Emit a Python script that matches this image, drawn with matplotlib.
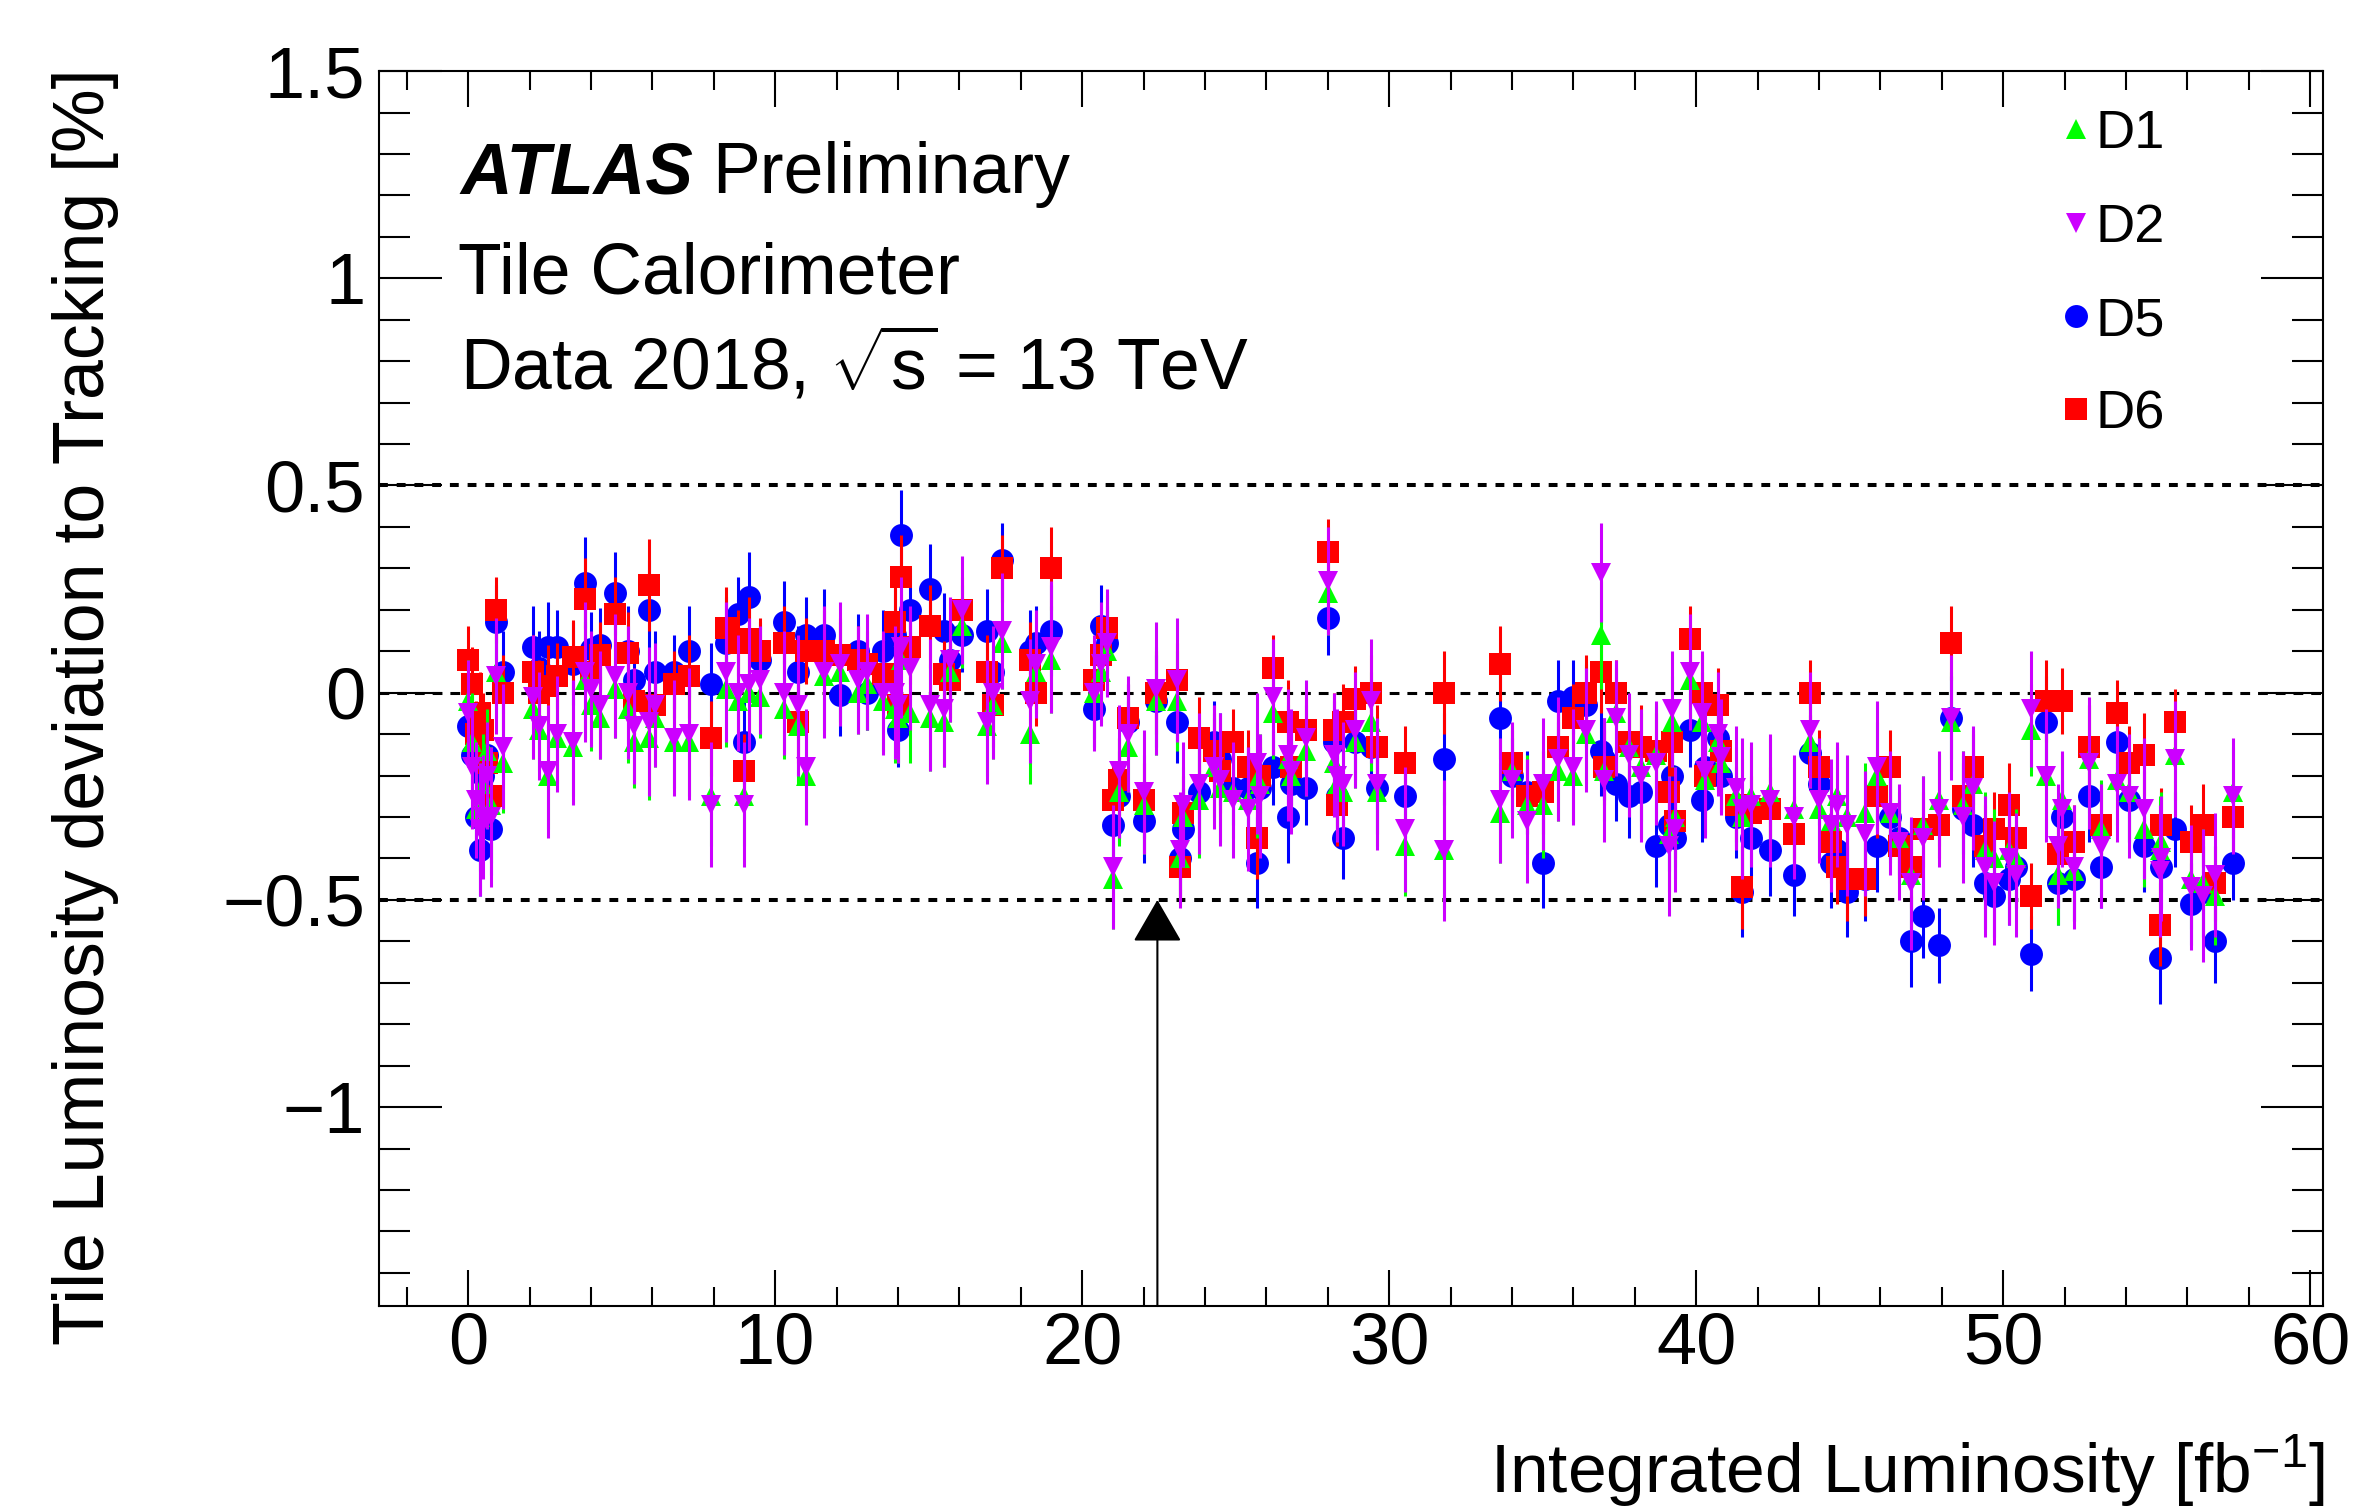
import matplotlib
matplotlib.use("Agg")
import matplotlib.pyplot as plt
from matplotlib.lines import Line2D
from matplotlib.ticker import MultipleLocator, FuncFormatter

plt.rcParams['font.family'] = ['Liberation Sans', 'DejaVu Sans']
plt.rcParams['mathtext.fontset'] = 'custom'
plt.rcParams['mathtext.rm'] = 'Liberation Sans'
plt.rcParams['mathtext.it'] = 'Liberation Sans:italic'
plt.rcParams['mathtext.bf'] = 'Liberation Sans:bold'

# integrated luminosity of each run [fb^-1]
lumi = [0.00, 0.12, 0.25, 0.38, 0.50, 0.62, 0.75, 0.90, 1.15,
        2.1, 2.3, 2.6, 2.9, 3.4, 3.8, 4.0, 4.3, 4.8, 5.2,
        5.4, 5.9, 6.1, 6.7, 7.2, 7.9, 8.4, 8.8, 9.0, 9.15,
        9.5, 10.3, 10.75, 11.0, 11.6, 12.1, 12.7, 13.0, 13.5, 13.9,
        14.0, 14.1, 14.4, 15.05, 15.5, 15.7, 16.1, 16.9, 17.1, 17.4,
        18.3, 18.5, 19.0, 20.4, 20.6, 20.8, 21.0, 21.2, 21.5, 22.0,
        22.4, 23.1, 23.2, 23.3, 23.8, 24.3, 24.5, 24.9, 25.4, 25.7,
        25.8, 26.2, 26.7, 26.8, 27.3, 28.0, 28.2, 28.3, 28.5, 28.9,
        29.4, 29.6, 30.5, 31.8, 33.6, 34.0, 34.5, 35.0, 35.5, 36.0,
        36.4, 36.9, 37.0, 37.4, 37.8, 38.2, 38.7, 39.1, 39.2, 39.3,
        39.8, 40.2, 40.3, 40.7, 40.8, 41.3, 41.5, 41.8, 42.4, 43.2,
        43.7, 44.0, 44.4, 44.6, 44.9, 45.5, 45.9, 46.3, 46.6, 47.0,
        47.4, 47.9, 48.3, 48.7, 49.0, 49.4, 49.7, 50.2, 50.4, 50.9,
        51.4, 51.8, 51.9, 52.3, 52.8, 53.2, 53.7, 54.1, 54.6, 55.1,
        55.15, 55.6, 56.1, 56.5, 56.9, 57.5]

d1 = [-0.02, -0.12, -0.28, -0.30, -0.22, -0.14, -0.27, 0.05, -0.17,
      -0.04, -0.09, -0.20, -0.11, -0.13, 0.03, -0.03, -0.06, 0.01, -0.04,
      -0.12, -0.11, -0.06, -0.12, -0.12, -0.25, 0.01, -0.02, -0.25, 0.00,
      -0.01, -0.04, -0.08, -0.20, 0.04, 0.05, 0.00, 0.02, -0.02, -0.04,
      -0.06, 0.08, -0.05, -0.06, -0.07, 0.05, 0.16, -0.08, -0.03, 0.12,
      -0.10, 0.05, 0.08, 0.00, 0.05, 0.10, -0.45, -0.24, -0.13, -0.27,
      -0.02, -0.02, -0.40, -0.30, -0.26, -0.18, -0.23, -0.24, -0.26, -0.21,
      -0.22, -0.05, -0.16, -0.20, -0.14, 0.24, -0.17, -0.22, -0.24, -0.12,
      -0.07, -0.24, -0.37, -0.38, -0.29, -0.19, -0.27, -0.27, -0.19, -0.20,
      -0.10, 0.14, -0.19, -0.05, -0.13, -0.18, -0.15, -0.34, -0.07, -0.30,
      0.03, -0.07, -0.21, -0.12, -0.17, -0.25, -0.30, -0.25, -0.24, -0.28,
      -0.12, -0.28, -0.31, -0.25, -0.30, -0.29, -0.20, -0.29, -0.35, -0.44,
      -0.32, -0.26, -0.07, -0.27, -0.22, -0.38, -0.40, -0.38, -0.40, -0.09,
      -0.20, -0.44, -0.26, -0.43, -0.16, -0.33, -0.21, -0.24, -0.33, -0.38,
      -0.36, -0.15, -0.45, -0.46, -0.49, -0.24]

d2 = [-0.05, -0.18, -0.26, -0.33, -0.30, -0.20, -0.30, 0.04, -0.13,
      -0.01, -0.08, -0.19, -0.10, -0.12, 0.05, 0.01, -0.03, 0.04, 0.00,
      -0.08, -0.07, -0.03, -0.11, -0.10, -0.27, 0.05, 0.00, -0.27, 0.02,
      0.03, 0.00, -0.03, -0.18, 0.05, 0.07, 0.03, 0.05, 0.00, 0.00,
      -0.03, 0.11, 0.06, -0.03, -0.04, 0.08, 0.20, -0.07, 0.00, 0.15,
      -0.02, 0.07, 0.11, 0.00, 0.07, 0.12, -0.42, -0.19, -0.10, -0.24,
      0.01, 0.03, -0.38, -0.27, -0.22, -0.18, -0.21, -0.26, -0.28, -0.17,
      -0.25, -0.01, -0.15, -0.19, -0.11, 0.27, -0.15, -0.20, -0.22, -0.09,
      -0.02, -0.22, -0.33, -0.38, -0.26, -0.21, -0.31, -0.22, -0.16, -0.18,
      -0.09, 0.29, -0.21, -0.06, -0.15, -0.20, -0.17, -0.37, -0.04, -0.33,
      0.05, -0.05, -0.19, -0.10, -0.155, -0.23, -0.28, -0.27, -0.26, -0.30,
      -0.09, -0.26, -0.32, -0.27, -0.32, -0.34, -0.18, -0.29, -0.36, -0.46,
      -0.35, -0.28, -0.06, -0.30, -0.23, -0.42, -0.46, -0.40, -0.44, -0.04,
      -0.20, -0.37, -0.28, -0.42, -0.17, -0.37, -0.22, -0.25, -0.28, -0.43,
      -0.40, -0.16, -0.47, -0.49, -0.44, -0.25]

d5 = [-0.08, -0.15, -0.30, -0.38, -0.20, -0.15, -0.33, 0.17, 0.05,
      0.11, 0.06, 0.11, 0.11, 0.07, 0.265, 0.105, 0.115, 0.24, 0.10,
      0.03, 0.20, 0.05, 0.05, 0.10, 0.02, 0.12, 0.19, -0.12, 0.23,
      0.08, 0.17, 0.05, 0.14, 0.14, -0.005, 0.10, 0.00, 0.10, 0.14,
      -0.09, 0.38, 0.20, 0.25, 0.15, 0.08, 0.14, 0.15, 0.05, 0.32,
      0.10, 0.12, 0.15, -0.04, 0.16, 0.12, -0.32, -0.25, -0.07, -0.31,
      -0.02, -0.07, -0.40, -0.33, -0.24, -0.12, -0.16, -0.23, -0.23, -0.41,
      -0.23, -0.18, -0.30, -0.22, -0.23, 0.18, -0.12, -0.25, -0.35, -0.12,
      -0.13, -0.23, -0.25, -0.16, -0.06, -0.20, -0.24, -0.41, -0.02, -0.01,
      -0.03, -0.14, -0.16, -0.22, -0.25, -0.24, -0.37, -0.32, -0.20, -0.35,
      -0.09, -0.26, -0.18, -0.11, -0.20, -0.30, -0.48, -0.35, -0.38, -0.44,
      -0.145, -0.22, -0.41, -0.38, -0.48, -0.45, -0.37, -0.30, -0.35, -0.60,
      -0.54, -0.61, -0.06, -0.28, -0.32, -0.46, -0.49, -0.45, -0.42, -0.63,
      -0.07, -0.46, -0.30, -0.45, -0.25, -0.42, -0.12, -0.26, -0.37, -0.64,
      -0.42, -0.33, -0.51, -0.48, -0.60, -0.41]

d6 = [0.08, 0.02, -0.10, -0.05, -0.09, -0.17, -0.25, 0.20, 0.00,
      0.05, 0.00, 0.015, 0.04, 0.085, 0.225, 0.05, 0.09, 0.19, 0.095,
      -0.02, 0.26, -0.03, 0.02, 0.04, -0.11, 0.155, 0.12, -0.19, 0.13,
      0.10, 0.12, -0.07, 0.10, 0.10, 0.09, 0.08, 0.07, 0.045, 0.17,
      -0.03, 0.28, 0.11, 0.16, 0.045, 0.03, 0.20, 0.05, -0.03, 0.30,
      0.08, 0.00, 0.30, 0.03, 0.09, 0.155, -0.26, -0.21, -0.06, -0.26,
      0.00, 0.03, -0.42, -0.29, -0.11, -0.14, -0.19, -0.12, -0.18, -0.35,
      -0.20, 0.06, -0.07, -0.18, -0.09, 0.34, -0.09, -0.27, -0.07, -0.015,
      0.00, -0.13, -0.17, 0.00, 0.07, -0.17, -0.25, -0.24, -0.13, -0.06,
      0.00, 0.05, -0.18, 0.00, -0.12, -0.13, -0.14, -0.24, -0.12, -0.31,
      0.13, 0.00, -0.20, -0.03, -0.14, -0.27, -0.47, -0.29, -0.28, -0.34,
      0.00, -0.18, -0.36, -0.42, -0.45, -0.45, -0.25, -0.18, -0.37, -0.42,
      -0.33, -0.32, 0.12, -0.25, -0.18, -0.37, -0.33, -0.27, -0.35, -0.49,
      -0.02, -0.39, -0.02, -0.36, -0.13, -0.32, -0.05, -0.17, -0.15, -0.56,
      -0.32, -0.07, -0.36, -0.32, -0.46, -0.30]

# statistical uncertainties
e1 = [0.10, 0.12, 0.11, 0.13, 0.12, 0.10, 0.14, 0.11, 0.12,
      0.12, 0.10, 0.13, 0.11, 0.12, 0.14, 0.11, 0.10, 0.12, 0.13,
      0.11, 0.15, 0.12, 0.11, 0.13, 0.12, 0.14, 0.11, 0.12, 0.13,
      0.10, 0.12, 0.14, 0.11, 0.13, 0.12, 0.10, 0.11, 0.12, 0.13,
      0.11, 0.14, 0.12, 0.13, 0.11, 0.12, 0.10, 0.12, 0.13, 0.11,
      0.12, 0.10, 0.13, 0.11, 0.12, 0.10, 0.12, 0.13, 0.11, 0.12,
      0.13, 0.12, 0.11, 0.12, 0.14, 0.12, 0.13, 0.11, 0.12, 0.14,
      0.12, 0.11, 0.13, 0.12, 0.11, 0.10, 0.12, 0.13, 0.12, 0.11,
      0.12, 0.13, 0.12, 0.14, 0.12, 0.11, 0.12, 0.13, 0.12, 0.11,
      0.12, 0.13, 0.12, 0.11, 0.12, 0.13, 0.12, 0.14, 0.11, 0.12,
      0.11, 0.12, 0.13, 0.12, 0.11, 0.12, 0.14, 0.12, 0.13, 0.12,
      0.11, 0.12, 0.13, 0.12, 0.14, 0.12, 0.13, 0.12, 0.11, 0.13,
      0.12, 0.11, 0.12, 0.13, 0.12, 0.14, 0.12, 0.13, 0.12, 0.11,
      0.13, 0.12, 0.11, 0.12, 0.13, 0.12, 0.11, 0.12, 0.14, 0.13,
      0.12, 0.11, 0.12, 0.13, 0.12, 0.11]

e2 = [0.13, 0.15, 0.14, 0.16, 0.15, 0.13, 0.17, 0.14, 0.15,
      0.15, 0.13, 0.16, 0.14, 0.15, 0.17, 0.14, 0.13, 0.15, 0.16,
      0.14, 0.18, 0.15, 0.14, 0.16, 0.15, 0.17, 0.14, 0.15, 0.16,
      0.13, 0.15, 0.17, 0.14, 0.16, 0.15, 0.13, 0.14, 0.15, 0.16,
      0.14, 0.17, 0.15, 0.16, 0.14, 0.15, 0.13, 0.15, 0.16, 0.14,
      0.15, 0.13, 0.16, 0.14, 0.15, 0.13, 0.15, 0.16, 0.14, 0.15,
      0.16, 0.15, 0.14, 0.15, 0.17, 0.15, 0.16, 0.14, 0.15, 0.17,
      0.15, 0.14, 0.16, 0.15, 0.14, 0.13, 0.15, 0.16, 0.15, 0.14,
      0.15, 0.16, 0.15, 0.17, 0.15, 0.14, 0.15, 0.16, 0.15, 0.14,
      0.15, 0.12, 0.15, 0.14, 0.15, 0.16, 0.15, 0.17, 0.14, 0.15,
      0.14, 0.15, 0.16, 0.15, 0.14, 0.15, 0.17, 0.15, 0.16, 0.15,
      0.14, 0.15, 0.16, 0.15, 0.17, 0.15, 0.16, 0.15, 0.14, 0.16,
      0.15, 0.14, 0.15, 0.16, 0.15, 0.17, 0.15, 0.16, 0.15, 0.14,
      0.16, 0.15, 0.14, 0.15, 0.16, 0.15, 0.14, 0.15, 0.17, 0.16,
      0.15, 0.14, 0.15, 0.16, 0.15, 0.14]

e5 = [0.09, 0.10, 0.09, 0.11, 0.10, 0.09, 0.11, 0.09, 0.10,
      0.10, 0.09, 0.11, 0.09, 0.10, 0.11, 0.09, 0.09, 0.10, 0.11,
      0.09, 0.12, 0.10, 0.09, 0.11, 0.10, 0.11, 0.09, 0.10, 0.11,
      0.09, 0.10, 0.11, 0.09, 0.11, 0.10, 0.09, 0.09, 0.10, 0.11,
      0.09, 0.11, 0.10, 0.11, 0.09, 0.10, 0.09, 0.10, 0.11, 0.09,
      0.10, 0.09, 0.11, 0.09, 0.10, 0.09, 0.10, 0.11, 0.09, 0.10,
      0.11, 0.10, 0.09, 0.10, 0.11, 0.10, 0.11, 0.09, 0.10, 0.11,
      0.10, 0.09, 0.11, 0.10, 0.09, 0.09, 0.10, 0.11, 0.10, 0.09,
      0.10, 0.11, 0.10, 0.11, 0.10, 0.09, 0.10, 0.11, 0.10, 0.09,
      0.10, 0.11, 0.10, 0.09, 0.10, 0.11, 0.10, 0.11, 0.09, 0.10,
      0.09, 0.10, 0.11, 0.10, 0.09, 0.10, 0.11, 0.10, 0.11, 0.10,
      0.09, 0.10, 0.11, 0.10, 0.11, 0.10, 0.11, 0.10, 0.09, 0.11,
      0.10, 0.09, 0.10, 0.11, 0.10, 0.11, 0.10, 0.11, 0.10, 0.09,
      0.11, 0.10, 0.09, 0.10, 0.11, 0.10, 0.09, 0.10, 0.11, 0.11,
      0.10, 0.09, 0.10, 0.11, 0.10, 0.09]

e6 = [0.08, 0.09, 0.08, 0.10, 0.09, 0.08, 0.10, 0.08, 0.09,
      0.09, 0.08, 0.10, 0.08, 0.09, 0.10, 0.08, 0.08, 0.09, 0.10,
      0.08, 0.11, 0.09, 0.08, 0.10, 0.09, 0.10, 0.08, 0.09, 0.10,
      0.08, 0.09, 0.10, 0.08, 0.10, 0.09, 0.08, 0.08, 0.09, 0.10,
      0.08, 0.10, 0.09, 0.10, 0.08, 0.09, 0.08, 0.09, 0.10, 0.08,
      0.09, 0.08, 0.10, 0.08, 0.09, 0.08, 0.09, 0.10, 0.08, 0.09,
      0.10, 0.09, 0.08, 0.09, 0.10, 0.09, 0.10, 0.08, 0.09, 0.10,
      0.09, 0.08, 0.10, 0.09, 0.08, 0.08, 0.09, 0.10, 0.09, 0.08,
      0.09, 0.10, 0.09, 0.10, 0.09, 0.08, 0.09, 0.10, 0.09, 0.08,
      0.09, 0.10, 0.09, 0.08, 0.09, 0.10, 0.09, 0.10, 0.08, 0.09,
      0.08, 0.09, 0.10, 0.09, 0.08, 0.09, 0.10, 0.09, 0.10, 0.09,
      0.08, 0.09, 0.10, 0.09, 0.10, 0.09, 0.10, 0.09, 0.08, 0.10,
      0.09, 0.08, 0.09, 0.10, 0.09, 0.10, 0.09, 0.10, 0.09, 0.08,
      0.10, 0.09, 0.08, 0.09, 0.10, 0.09, 0.08, 0.09, 0.10, 0.10,
      0.09, 0.08, 0.09, 0.10, 0.09, 0.08]

# drawing order as seen in the picture: blue, red, green, magenta on top
series = [
    ("D5", d5, e5, "#0000ff", "o", 16.5),
    ("D6", d6, e6, "#ff0000", "s", 15.5),
    ("D1", d1, e1, "#00ff00", "^", 14.5),
    ("D2", d2, e2, "#cc00ff", "v", 14.5),
]

fig = plt.figure(figsize=(23.59, 15.09), dpi=100)
ax = fig.add_axes([0.1607, 0.1345, 0.8241, 0.8184])

ax.axhline(0.5, color="black", lw=2.9, dashes=(2.2, 2.2), zorder=1)
ax.axhline(-0.5, color="black", lw=2.9, dashes=(2.2, 2.2), zorder=1)
ax.axhline(0.0, color="black", lw=2.2, dashes=(3.2, 2.6), zorder=1)

for k, (name, vals, errs, col, mk, ms) in enumerate(series):
    ax.errorbar(lumi, vals, yerr=errs, fmt="none", ecolor=col, elinewidth=2.2,
                capsize=0, zorder=2 + k)
    ax.plot(lumi, vals, ls="none", marker=mk, ms=ms, color=col, mew=0,
            zorder=2.5 + k)

# beam-spot change marker
ax.annotate("", xy=(22.45, -0.5), xytext=(22.45, -1.48),
            arrowprops=dict(arrowstyle="-|>,head_length=0.45,head_width=0.26",
                            mutation_scale=60, lw=1.5, color="black",
                            shrinkA=0, shrinkB=0), zorder=8)

ax.set_xlim(-2.9, 60.42)
ax.set_ylim(-1.48, 1.5)
ax.xaxis.set_major_locator(MultipleLocator(10))
ax.xaxis.set_minor_locator(MultipleLocator(2))
ax.yaxis.set_major_locator(MultipleLocator(0.5))
ax.yaxis.set_minor_locator(MultipleLocator(0.1))


def fmt(v, pos):
    if abs(v) < 1e-9:
        return "0"
    return f"{v:g}".replace("-", "\u2212")


ax.xaxis.set_major_formatter(FuncFormatter(fmt))
ax.yaxis.set_major_formatter(FuncFormatter(fmt))
ax.tick_params(which="both", direction="in", top=True, right=True, labelsize=52)
ax.tick_params(axis="x", which="major", length=26, width=1.5, pad=4)
ax.tick_params(axis="x", which="minor", length=13.5, width=1.5)
ax.tick_params(axis="y", which="major", length=45, width=1.5, pad=10)
ax.tick_params(axis="y", which="minor", length=22, width=1.5)
for sp in ax.spines.values():
    sp.set_linewidth(1.5)

atlas = ax.text(0.0417, 0.901, "ATLAS", transform=ax.transAxes, fontsize=51.5,
                fontweight="bold", style="italic", va="baseline")
ax.annotate("Preliminary", xy=(1, 0), xycoords=atlas, xytext=(14, 0),
            textcoords="offset points", fontsize=51.5, va="bottom")
ax.text(0.0407, 0.820, "Tile Calorimeter", transform=ax.transAxes,
        fontsize=51.5, va="baseline")
ax.text(0.0417, 0.742, r"Data 2018, $\sqrt{\mathrm{s}}$ = 13 TeV",
        transform=ax.transAxes, fontsize=51.5, va="baseline")

handles = [Line2D([], [], ls="none", marker="^", color="#00ff00", ms=14.5, mew=0),
           Line2D([], [], ls="none", marker="v", color="#cc00ff", ms=14.5, mew=0),
           Line2D([], [], ls="none", marker="o", color="#0000ff", ms=16.5, mew=0),
           Line2D([], [], ls="none", marker="s", color="#ff0000", ms=15.5, mew=0)]
ax.legend(handles, ["D1", "D2", "D5", "D6"], loc="upper left",
          bbox_to_anchor=(0.866, 0.969), frameon=False, fontsize=39,
          handlelength=0.5, handletextpad=0.1, labelspacing=0.8,
          borderaxespad=0, borderpad=0)

fig.text(0.022, 0.955, "Tile Luminosity deviation to Tracking [%]",
         rotation=90, ha="left", va="top", fontsize=51.7)
fig.text(0.9855, 0.011, r"Integrated Luminosity [fb$^{-1}$]",
         ha="right", va="baseline", fontsize=50)

fig.savefig("out.png", dpi=100)
